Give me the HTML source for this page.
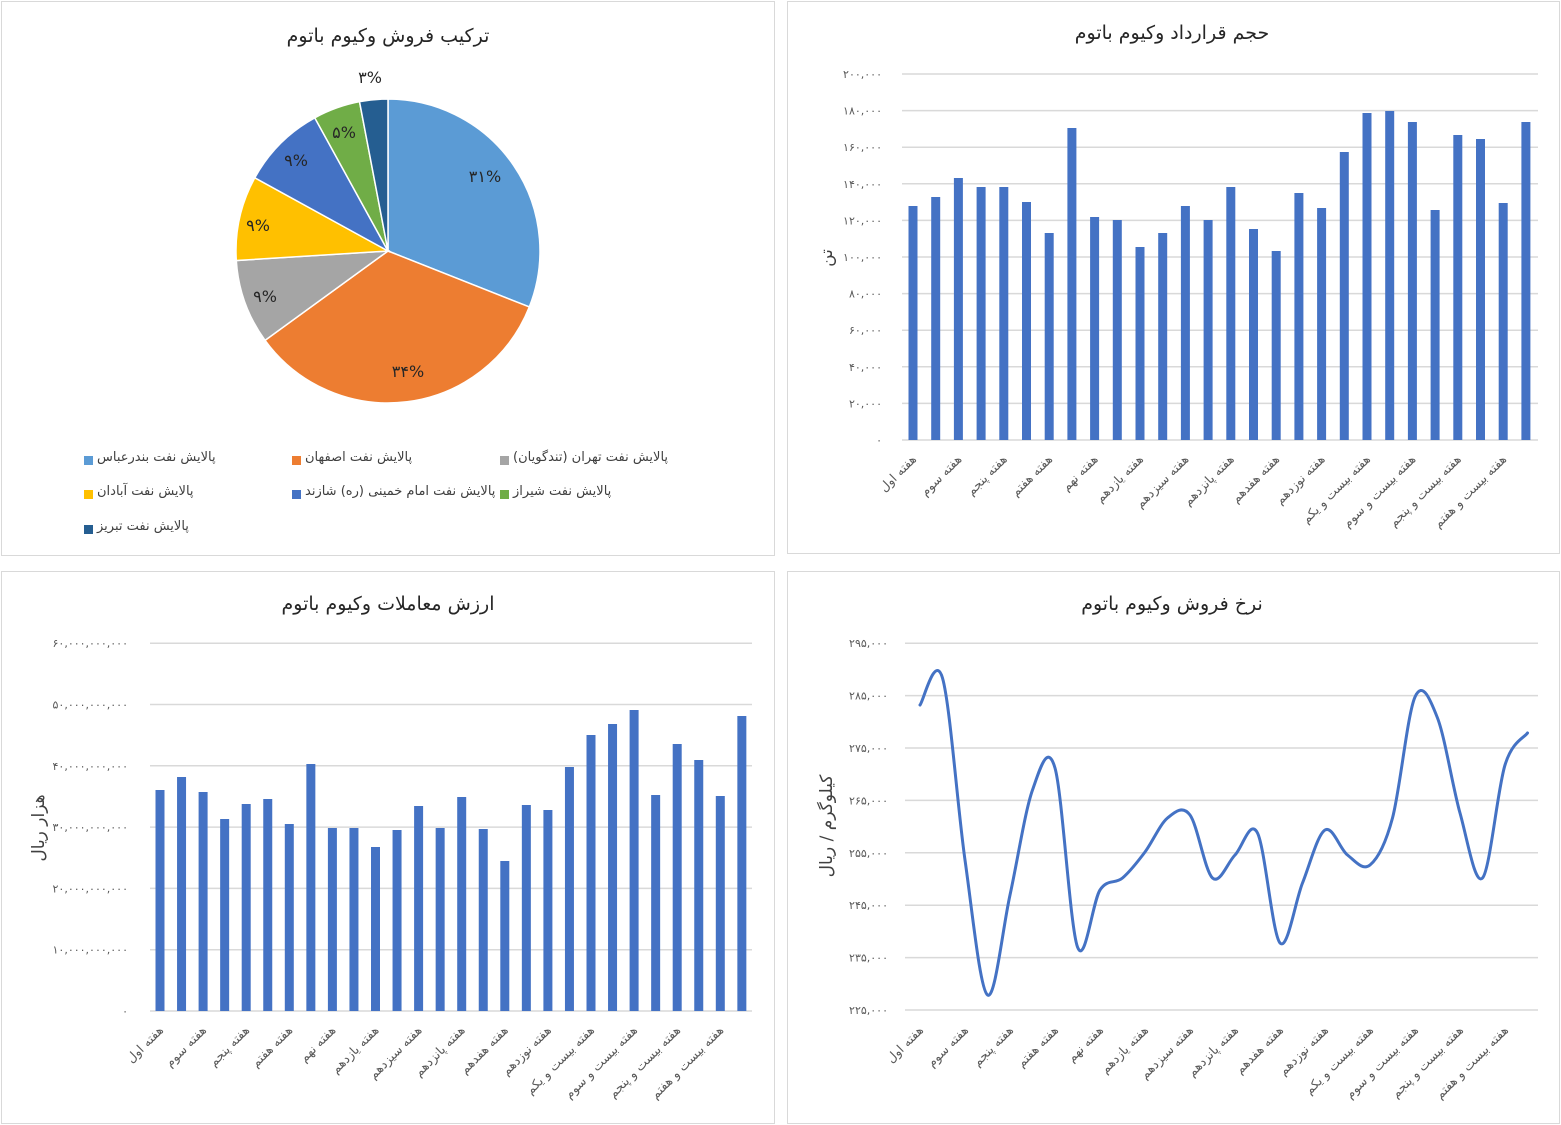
<!DOCTYPE html>
<html><head><meta charset="utf-8">
<style>
html,body{margin:0;padding:0;background:#fff;width:1561px;height:1125px;overflow:hidden}
body{position:relative;font-family:"Liberation Sans","Noto Sans CJK SC",sans-serif}
.lg{position:absolute;font-size:13px;color:#404040;white-space:nowrap;direction:rtl;font-family:"DejaVu Sans",sans-serif}
.sq{position:absolute;width:9px;height:9px}
</style></head><body>
<svg id="s" width="1561" height="1125" style="position:absolute;left:0;top:0" font-family="DejaVu Sans, sans-serif"></svg>
<div class="sq" style="left:84px;top:456px;background:#5B9BD5"></div><div class="lg" style="left:97px;top:450px">پالایش نفت بندرعباس</div>
<div class="sq" style="left:292px;top:456px;background:#ED7D31"></div><div class="lg" style="left:305px;top:450px">پالایش نفت اصفهان</div>
<div class="sq" style="left:500px;top:456px;background:#A5A5A5"></div><div class="lg" style="left:513px;top:450px">پالایش نفت تهران (تندگویان)</div>
<div class="sq" style="left:84px;top:490px;background:#FFC000"></div><div class="lg" style="left:97px;top:484px">پالایش نفت آبادان</div>
<div class="sq" style="left:292px;top:490px;background:#4472C4"></div><div class="lg" style="left:305px;top:484px">پالایش نفت امام خمینی (ره) شازند</div>
<div class="sq" style="left:500px;top:490px;background:#70AD47"></div><div class="lg" style="left:513px;top:484px">پالایش نفت شیراز</div>
<div class="sq" style="left:84px;top:525px;background:#255E91"></div><div class="lg" style="left:97px;top:519px">پالایش نفت تبریز</div>
<script>
const S=document.getElementById('s');let h='';
const fa=s=>String(s).replace(/\d/g,d=>'۰۱۲۳۴۵۶۷۸۹'[d]);
function num(v){return fa(v.toLocaleString('en-US'));}
[[1,1,773,554],[787,1,772,552],[1,571,773,552],[787,571,772,552]].forEach(r=>h+=`<rect x="${r[0]+.5}" y="${r[1]+.5}" width="${r[2]}" height="${r[3]}" fill="#fff" stroke="#d9d9d9"/>`);
function title(x,y,t){h+=`<text x="${x}" y="${y}" text-anchor="middle" font-size="19" fill="#262626" direction="rtl">${t}</text>`;}
title(388,42,'ترکیب فروش وکیوم باتوم');title(1172,39,'حجم قرارداد وکیوم باتوم');
title(388,610,'ارزش معاملات وکیوم باتوم');title(1172,610,'نرخ فروش وکیوم باتوم');
const cx=388,cy=251,R=152,p=[31,34,9,9,9,5,3],cols=['#5B9BD5','#ED7D31','#A5A5A5','#FFC000','#4472C4','#70AD47','#255E91'];
let a=-Math.PI/2;p.forEach((v,i)=>{const b=a+v/100*2*Math.PI;const x1=cx+R*Math.cos(a),y1=cy+R*Math.sin(a),x2=cx+R*Math.cos(b),y2=cy+R*Math.sin(b);
h+=`<path d="M${cx},${cy}L${x1},${y1}A${R},${R} 0 ${v>50?1:0} 1 ${x2},${y2}Z" fill="${cols[i]}" stroke="#fff" stroke-width="1.5"/>`;a=b;});
[[485,182,'۳۱%'],[408,377,'۳۴%'],[265,302,'۹%'],[258,231,'۹%'],[296,166,'۹%'],[344,138,'۵%'],[370,83,'۳%']].forEach(t=>h+=`<text x="${t[0]}" y="${t[1]}" text-anchor="middle" font-size="16" fill="#262626">${t[2]}</text>`);
const labs=['هفته اول','هفته سوم','هفته پنجم','هفته هفتم','هفته نهم','هفته یازدهم','هفته سیزدهم','هفته پانزدهم','هفته هفدهم','هفته نوزدهم','هفته بیست و یکم','هفته بیست و سوم','هفته بیست و پنجم','هفته بیست و هفتم'];
function grid(x0,x1,ys,vals,lx){ys.forEach((y,i)=>{h+=`<line x1="${x0}" x2="${x1}" y1="${y}" y2="${y}" stroke="#d9d9d9" stroke-width="1.5"/>`;
h+=`<text x="${lx}" y="${y+4}" text-anchor="end" font-size="11" fill="#595959">${vals[i]}</text>`;});}
function xl(xs,y){labs.forEach((t,i)=>{const x=xs[i*2]+4;h+=`<text transform="translate(${x},${y}) rotate(-45)" text-anchor="start" direction="rtl" font-size="12.5" fill="#595959">${t}</text>`;});}
function ytitle(x,y,t){h+=`<text transform="translate(${x},${y}) rotate(-90)" text-anchor="middle" font-size="17" fill="#404040" direction="rtl">${t}</text>`;}
let ys=[],vs=[];for(let i=0;i<=10;i++){ys.push(440-i*36.6);vs.push(num(i*20000));}
grid(902,1538,ys,vs,882);
const t2=[206,197,178,187,187,202,233,128,217,220,247,233,206,220,187,229,251,193,208,152,113,111,122,210,135,139,203,122];
let xs=[];t2.forEach((t,i)=>{const x=913+i*22.7;xs.push(x);h+=`<rect x="${x-4.5}" y="${t}" width="9" height="${440-t}" fill="#4472C4"/>`;});
xl(xs,460);ytitle(832,258,'تن');
ys=[];vs=[];for(let i=0;i<=6;i++){ys.push(1011-i*61.3);vs.push(num(i*10000000000));}
grid(150,752,ys,vs,128);
const t3=[790,777,792,819,804,799,824,764,828,828,847,830,806,828,797,829,861,805,810,767,735,724,710,795,744,760,796,716];
xs=[];t3.forEach((t,i)=>{const x=160+i*21.55;xs.push(x);h+=`<rect x="${x-4.5}" y="${t}" width="9" height="${1011-t}" fill="#4472C4"/>`;});
xl(xs,1031);ytitle(44,828,'هزار ریال');
ys=[];vs=[];for(let i=0;i<=7;i++){ys.push(1010-i*52.4);vs.push(num(225000+i*10000));}
grid(905,1538,ys,vs,888);
const t4=[705,678,860,995,895,790,768,947,890,878,852,818,815,878,855,833,943,883,830,855,865,818,697,718,813,878,765,733];
const P=t4.map((y,i)=>[920+i*22.5,y]);xs=P.map(q=>q[0]);
let d=`M${P[0][0]},${P[0][1]}`;for(let i=0;i<P.length-1;i++){const p0=P[Math.max(0,i-1)],p1=P[i],p2=P[i+1],p3=P[Math.min(P.length-1,i+2)];
d+=`C${p1[0]+(p2[0]-p0[0])/6},${p1[1]+(p2[1]-p0[1])/6} ${p2[0]-(p3[0]-p1[0])/6},${p2[1]-(p3[1]-p1[1])/6} ${p2[0]},${p2[1]}`;}
h+=`<path d="${d}" fill="none" stroke="#4472C4" stroke-width="3" stroke-linecap="round"/>`;
xl(xs,1031);ytitle(832,826,'کیلوگرم / ریال');
S.innerHTML=h;
</script>
</body></html>
